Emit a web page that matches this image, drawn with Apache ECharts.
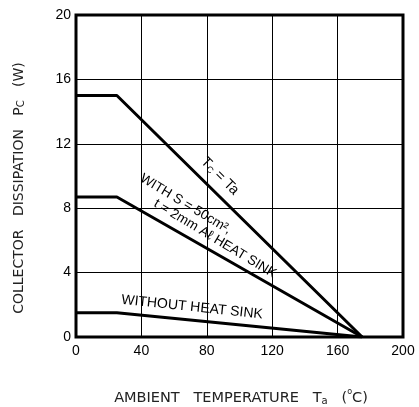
<!DOCTYPE html>
<html><head><meta charset="utf-8">
<script src="https://cdn.jsdelivr.net/npm/echarts@6/dist/echarts.min.js"></script>
<style>html,body{margin:0;padding:0;background:#fff}#c{width:419px;height:407px}</style>
</head><body><div id="c"></div>
<script>
// Data
const xTicks = [0, 40, 80, 120, 160, 200];
const yTicks = [0, 4, 8, 12, 16, 20];
const tcTaX = [0, 25, 175];
const tcTaY = [15, 15, 0];
const sinkX = [0, 25, 175];
const sinkY = [8.7, 8.7, 0];
const noSinkX = [0, 25, 175];
const noSinkY = [1.5, 1.5, 0];
const labels = [
  { text: 'T{s|C} = Ta', at: [88, 10.0], rot: -45, size: 14.5 },
  { text: 'WITH S = 50cm², ', at: [68, 8.2], rot: -31, size: 13.5 },
  { text: 't = 2mm Aℓ HEAT SINK', at: [85, 6.1], rot: -31, size: 13.5 },
  { text: 'WITHOUT HEAT SINK', at: [71, 1.85], rot: -6, size: 14 }
];

const zip = (xs, ys) => xs.map((x, i) => [x, ys[i]]);
const font = 'Liberation Sans, Arial, sans-serif';
const nameFont = 'DejaVu Sans, sans-serif';
const chart = echarts.init(document.getElementById('c'));
const lineSeries = (d) => ({
  type: 'line', data: d, showSymbol: false, symbol: 'none',
  lineStyle: { color: '#000', width: 3 }, z: 5, animation: false
});
chart.setOption({
  animation: false,
  grid: { left: 76, right: 16, top: 15, bottom: 70, show: true, borderColor: '#000', borderWidth: 3, z: 10 },
  xAxis: {
    type: 'value', min: xTicks[0], max: xTicks[xTicks.length - 1], interval: 40,
    axisLine: { show: false }, axisTick: { show: false },
    splitLine: { show: true, lineStyle: { color: '#000', width: 1 } },
    axisLabel: { color: '#000', fontSize: 14, fontFamily: font, margin: 7 }
  },
  yAxis: {
    type: 'value', min: yTicks[0], max: yTicks[yTicks.length - 1], interval: 4,
    axisLine: { show: false }, axisTick: { show: false },
    splitLine: { show: true, lineStyle: { color: '#000', width: 1 } },
    axisLabel: { color: '#000', fontSize: 14, fontFamily: font, margin: 5 }
  },
  series: [
    lineSeries(zip(tcTaX, tcTaY)),
    lineSeries(zip(sinkX, sinkY)),
    lineSeries(zip(noSinkX, noSinkY))
  ]
});
const mkRich = (fs) => ({
  a: { fontSize: fs, fontFamily: nameFont, fill: '#222', lineHeight: 18, verticalAlign: 'bottom' },
  s: { fontSize: 10, fontFamily: nameFont, fill: '#222', lineHeight: 18, verticalAlign: 'bottom' },
  d: { fontSize: 8, fontFamily: nameFont, fill: '#222', lineHeight: 18, verticalAlign: 'top' }
});
const gr = labels.map(l => {
  const p = chart.convertToPixel({ gridIndex: 0 }, l.at);
  return {
    type: 'text', x: p[0], y: p[1], rotation: l.rot * Math.PI / 180, z: 20,
    style: {
      text: l.text, fill: '#000', font: l.size + 'px ' + font, align: 'center', verticalAlign: 'middle',
      rich: { s: { fontSize: 9, fill: '#000', verticalAlign: 'bottom' } }
    }
  };
});
gr.push({
  type: 'text', x: 241, y: 397, z: 20,
  style: { text: '{a|AMBIENT   TEMPERATURE   T}{s|a}{a|   (}{d|o}{a|C)}', align: 'center', verticalAlign: 'middle', rich: mkRich(14.5) }
});
gr.push({
  type: 'text', x: 17, y: 188, rotation: Math.PI / 2, z: 20,
  style: { text: '{a|COLLECTOR   DISSIPATION   P}{s|C}{a|   (W)}', align: 'center', verticalAlign: 'middle', rich: mkRich(14) }
});
chart.setOption({ graphic: gr });
</script></body></html>
